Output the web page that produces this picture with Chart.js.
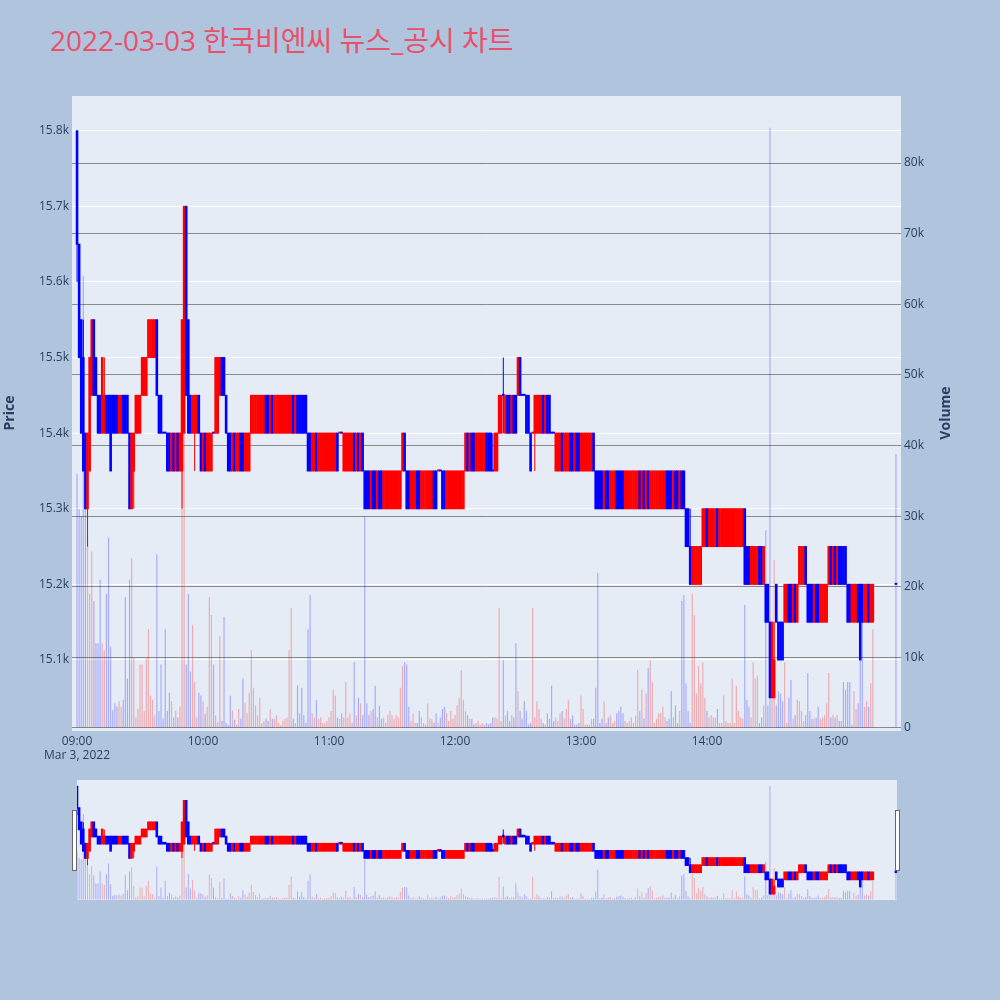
<!DOCTYPE html>
<html>
<head>
<meta charset="utf-8">
<script src="https://cdn.jsdelivr.net/npm/chart.js@4.4.1/dist/chart.umd.min.js"></script>
<style>
  html, body { margin: 0; padding: 0; background: #b0c4de; }
  #wrap { position: relative; width: 1000px; height: 1000px; overflow: hidden; }
  #title { position: absolute; left: 50px; top: 21px; line-height: 38px; font-size: 28px; color: #e9516b;
           white-space: nowrap; font-family: "Open Sans", "Noto Sans CJK KR", sans-serif; }
  #mainChart { position: absolute; left: 0; top: 0; }
  #sliderBg { position: absolute; left: 77px; top: 780px; width: 820px; height: 120px; background: #e5ecf6; }
  #sliderChart { position: absolute; left: 77px; top: 780px; }
  .handle { position: absolute; top: 810px; width: 3px; height: 59px; background: #fff; border: 1px solid #666; }
</style>
</head>
<body>
<div id="wrap">
  <div id="title">2022-03-03 한국비엔씨 뉴스_공시 차트</div>
  <canvas id="mainChart" width="1000" height="770"></canvas>
  <div id="sliderBg"></div>
  <canvas id="sliderChart" width="820" height="120"></canvas>
  <div class="handle" style="left:72px"></div>
  <div class="handle" style="left:895px"></div>
</div>
<script>
// 분봉 시간 (09:00 ~ 15:19, 동시호가 15:30)
const times = [];
for (let i = 0; i < 380; i++) {
  const h = 9 + Math.floor(i / 60), mm = i % 60;
  times.push(String(h).padStart(2, '0') + ':' + String(mm).padStart(2, '0'));
}
times.push('15:30');

const opens = [
  15800,15650,15550,15500,15400,15300,15350,15450,15550,15500,
  15450,15450,15400,15400,15450,15450,15450,15450,15450,15450,
  15400,15400,15450,15450,15450,15400,15300,15350,15400,15400,
  15400,15450,15450,15450,15500,15500,15500,15500,15550,15450,
  15450,15400,15400,15400,15400,15350,15400,15350,15400,15350,
  15350,15400,15700,15550,15450,15400,15400,15400,15450,15400,
  15350,15400,15350,15350,15350,15400,15400,15400,15450,15500,
  15500,15450,15400,15400,15350,15400,15350,15350,15400,15400,
  15350,15350,15350,15400,15400,15400,15400,15400,15400,15400,
  15450,15450,15400,15450,15400,15400,15400,15400,15400,15400,
  15400,15400,15400,15450,15400,15450,15450,15450,15450,15450,
  15400,15400,15350,15350,15400,15350,15350,15350,15350,15350,
  15350,15350,15350,15350,15400,15400,15400,15350,15350,15350,
  15350,15350,15400,15350,15400,15350,15400,15350,15350,15350,
  15300,15350,15350,15300,15350,15350,15300,15300,15300,15300,
  15300,15300,15300,15300,15300,15350,15400,15350,15350,15300,
  15300,15300,15350,15350,15300,15300,15300,15300,15300,15300,
  15350,15350,15350,15350,15350,15350,15300,15300,15300,15300,
  15300,15300,15300,15300,15300,15350,15400,15350,15400,15400,
  15350,15350,15350,15350,15350,15400,15400,15400,15350,15350,
  15350,15400,15400,15450,15400,15450,15450,15400,15450,15450,
  15450,15500,15450,15450,15450,15450,15400,15400,15400,15400,
  15400,15400,15450,15400,15450,15450,15400,15400,15350,15350,
  15350,15400,15350,15350,15350,15400,15400,15350,15400,15400,
  15350,15350,15350,15350,15350,15350,15400,15350,15350,15350,
  15350,15300,15350,15350,15300,15300,15300,15350,15350,15350,
  15350,15300,15300,15300,15300,15300,15300,15300,15350,15300,
  15350,15300,15350,15300,15300,15300,15300,15300,15300,15300,
  15300,15350,15350,15350,15300,15350,15350,15300,15350,15350,
  15300,15300,15250,15200,15200,15200,15200,15200,15250,15250,
  15300,15250,15250,15250,15250,15300,15250,15250,15250,15250,
  15250,15250,15250,15250,15250,15250,15250,15250,15300,15250,
  15250,15200,15200,15200,15200,15250,15250,15200,15200,15200,
  15150,15050,15050,15200,15150,15150,15150,15150,15150,15200,
  15200,15150,15200,15150,15200,15200,15200,15250,15200,15200,
  15200,15150,15200,15200,15150,15150,15150,15150,15200,15250,
  15200,15250,15200,15250,15250,15250,15250,15200,15200,15150,
  15150,15150,15200,15200,15200,15150,15150,15200,15150,15150,
  15200
];

const highs = [
  15800,15650,15550,15550,15400,15400,15500,15550,15550,15500,
  15450,15450,15500,15500,15450,15450,15450,15450,15450,15450,
  15450,15450,15450,15450,15450,15400,15400,15400,15450,15450,
  15450,15500,15500,15500,15550,15550,15550,15550,15550,15450,
  15450,15400,15400,15400,15400,15400,15400,15400,15400,15400,
  15550,15700,15700,15550,15450,15450,15450,15450,15450,15400,
  15400,15400,15400,15400,15400,15400,15500,15500,15500,15500,
  15500,15450,15400,15400,15400,15400,15400,15400,15400,15400,
  15400,15400,15400,15450,15450,15450,15450,15450,15450,15450,
  15450,15450,15450,15450,15450,15450,15450,15450,15450,15450,
  15450,15450,15450,15450,15450,15450,15450,15450,15450,15450,
  15400,15400,15400,15400,15400,15400,15400,15400,15400,15400,
  15400,15400,15400,15400,15400,15400,15400,15400,15400,15400,
  15400,15400,15400,15400,15400,15400,15400,15350,15350,15350,
  15350,15350,15350,15350,15350,15350,15350,15350,15350,15350,
  15350,15350,15350,15350,15350,15400,15400,15350,15350,15350,
  15350,15350,15350,15350,15350,15350,15350,15350,15350,15350,
  15350,15350,15350,15350,15350,15350,15350,15350,15350,15350,
  15350,15350,15350,15350,15350,15400,15400,15400,15400,15400,
  15400,15400,15400,15400,15400,15400,15400,15400,15400,15400,
  15400,15450,15450,15500,15450,15450,15450,15450,15450,15450,
  15500,15500,15450,15450,15450,15450,15400,15400,15450,15450,
  15450,15450,15450,15450,15450,15450,15400,15400,15400,15400,
  15400,15400,15400,15400,15400,15400,15400,15400,15400,15400,
  15400,15400,15400,15400,15400,15400,15400,15350,15350,15350,
  15350,15350,15350,15350,15350,15350,15350,15350,15350,15350,
  15350,15350,15350,15350,15350,15350,15350,15350,15350,15350,
  15350,15350,15350,15350,15350,15350,15350,15350,15350,15350,
  15350,15350,15350,15350,15350,15350,15350,15350,15350,15350,
  15300,15300,15300,15250,15250,15250,15250,15250,15300,15300,
  15300,15300,15300,15300,15300,15300,15300,15300,15300,15300,
  15300,15300,15300,15300,15300,15300,15300,15300,15300,15250,
  15250,15250,15250,15250,15250,15250,15250,15250,15200,15200,
  15150,15150,15150,15200,15150,15150,15150,15200,15200,15200,
  15200,15200,15200,15200,15250,15250,15250,15250,15200,15200,
  15200,15200,15200,15200,15200,15200,15200,15200,15250,15250,
  15250,15250,15250,15250,15250,15250,15250,15200,15200,15200,
  15200,15200,15200,15200,15200,15200,15200,15200,15200,15200,
  15200
];

const lows = [
  15600,15500,15400,15350,15300,15250,15350,15450,15450,15450,
  15400,15400,15400,15400,15400,15400,15350,15400,15400,15400,
  15400,15400,15400,15400,15400,15300,15300,15300,15400,15400,
  15400,15450,15450,15450,15500,15500,15500,15500,15450,15400,
  15400,15400,15400,15350,15350,15350,15350,15350,15350,15350,
  15300,15400,15450,15400,15400,15400,15350,15400,15400,15350,
  15350,15350,15350,15350,15350,15400,15400,15400,15450,15450,
  15450,15400,15350,15350,15350,15350,15350,15350,15350,15350,
  15350,15350,15350,15400,15400,15400,15400,15400,15400,15400,
  15400,15400,15400,15400,15400,15400,15400,15400,15400,15400,
  15400,15400,15400,15400,15400,15400,15400,15400,15400,15400,
  15350,15350,15350,15350,15350,15350,15350,15350,15350,15350,
  15350,15350,15350,15350,15350,15400,15400,15350,15350,15350,
  15350,15350,15350,15350,15350,15350,15350,15300,15300,15300,
  15300,15300,15300,15300,15300,15300,15300,15300,15300,15300,
  15300,15300,15300,15300,15300,15350,15350,15300,15300,15300,
  15300,15300,15300,15300,15300,15300,15300,15300,15300,15300,
  15300,15300,15350,15350,15300,15300,15300,15300,15300,15300,
  15300,15300,15300,15300,15300,15350,15350,15350,15350,15350,
  15350,15350,15350,15350,15350,15350,15350,15350,15350,15350,
  15350,15400,15400,15400,15400,15400,15400,15400,15400,15400,
  15450,15450,15450,15450,15400,15400,15350,15400,15350,15400,
  15400,15400,15400,15400,15400,15400,15400,15400,15350,15350,
  15350,15350,15350,15350,15350,15350,15350,15350,15350,15350,
  15350,15350,15350,15350,15350,15350,15350,15300,15300,15300,
  15300,15300,15300,15300,15300,15300,15300,15300,15300,15300,
  15300,15300,15300,15300,15300,15300,15300,15300,15300,15300,
  15300,15300,15300,15300,15300,15300,15300,15300,15300,15300,
  15300,15300,15300,15300,15300,15300,15300,15300,15300,15300,
  15250,15250,15200,15200,15200,15200,15200,15200,15250,15250,
  15250,15250,15250,15250,15250,15250,15250,15250,15250,15250,
  15250,15250,15250,15250,15250,15250,15250,15250,15200,15200,
  15200,15200,15200,15200,15200,15200,15200,15200,15150,15150,
  15050,15050,15050,15150,15100,15100,15100,15150,15150,15150,
  15150,15150,15150,15150,15200,15200,15200,15200,15150,15150,
  15150,15150,15150,15150,15150,15150,15150,15150,15200,15200,
  15200,15200,15200,15200,15200,15200,15200,15150,15150,15150,
  15150,15150,15150,15100,15150,15150,15150,15150,15150,15150,
  15200
];

const closes = [
  15650,15500,15400,15350,15300,15400,15500,15550,15450,15450,
  15400,15400,15500,15450,15400,15400,15350,15400,15400,15400,
  15450,15450,15400,15400,15400,15300,15400,15400,15450,15450,
  15450,15500,15500,15500,15550,15550,15550,15550,15450,15400,
  15400,15400,15400,15350,15350,15400,15350,15400,15350,15400,
  15550,15700,15450,15400,15400,15450,15450,15450,15400,15350,
  15400,15350,15400,15400,15400,15400,15500,15500,15500,15450,
  15450,15400,15350,15350,15400,15350,15400,15400,15350,15350,
  15400,15400,15400,15450,15450,15450,15450,15450,15450,15450,
  15400,15400,15450,15400,15450,15450,15450,15450,15450,15450,
  15450,15450,15450,15400,15450,15400,15400,15400,15400,15400,
  15350,15350,15400,15400,15350,15400,15400,15400,15400,15400,
  15400,15400,15400,15400,15350,15400,15400,15400,15400,15400,
  15400,15400,15350,15400,15350,15400,15350,15300,15300,15300,
  15350,15300,15300,15350,15300,15300,15350,15350,15350,15350,
  15350,15350,15350,15350,15350,15400,15350,15300,15300,15350,
  15350,15350,15300,15300,15350,15350,15350,15350,15350,15350,
  15300,15300,15350,15350,15300,15300,15350,15350,15350,15350,
  15350,15350,15350,15350,15350,15400,15350,15400,15350,15350,
  15400,15400,15400,15400,15400,15350,15350,15350,15350,15400,
  15400,15450,15450,15450,15450,15400,15400,15450,15400,15400,
  15500,15450,15450,15450,15400,15400,15350,15400,15450,15450,
  15450,15450,15400,15450,15400,15400,15400,15400,15400,15400,
  15400,15350,15400,15400,15400,15350,15350,15400,15350,15350,
  15400,15400,15400,15400,15400,15400,15350,15300,15300,15300,
  15300,15350,15300,15300,15350,15350,15350,15300,15300,15300,
  15300,15350,15350,15350,15350,15350,15350,15350,15300,15350,
  15300,15350,15300,15350,15350,15350,15350,15350,15350,15350,
  15350,15300,15300,15300,15350,15300,15300,15350,15300,15300,
  15250,15250,15200,15250,15250,15250,15250,15250,15300,15300,
  15250,15300,15300,15300,15300,15250,15300,15300,15300,15300,
  15300,15300,15300,15300,15300,15300,15300,15300,15200,15200,
  15200,15250,15250,15250,15250,15200,15200,15250,15150,15150,
  15050,15150,15100,15150,15100,15100,15100,15200,15200,15150,
  15150,15200,15150,15200,15250,15250,15250,15200,15150,15150,
  15150,15200,15150,15150,15200,15200,15200,15200,15250,15200,
  15250,15200,15250,15200,15200,15200,15200,15150,15150,15200,
  15200,15200,15150,15100,15150,15200,15200,15150,15200,15200,
  15200
];

const volumes = [
  36000,31000,30000,64000,31000,27000,19000,25000,18000,12000,
  12000,21000,12000,11000,19000,27000,11500,2500,3500,3000,
  3800,3000,4000,18500,7000,21000,24000,10000,1500,2700,
  9000,9000,2400,10000,14000,4600,4000,1800,24600,2400,
  9000,1300,14000,2400,5000,3800,1500,2400,1500,3000,
  45000,42000,9000,19000,8000,14600,6500,1500,5000,4600,
  3800,2000,3000,18500,16000,9000,1800,800,13000,1000,
  15700,700,400,4600,2500,1200,500,2700,1300,7000,
  3500,2100,5000,11000,5700,3200,1800,4300,700,1000,
  1300,1000,2700,1300,1300,1800,700,400,1000,1300,
  1500,11000,17000,1300,700,6000,2100,5700,1800,700,
  14000,18800,2100,1500,4000,1300,1500,700,700,1000,
  1500,2400,5400,4600,1500,1300,2100,1500,6500,1500,
  2100,700,9300,1800,4300,3500,1800,30000,3500,1800,
  2400,2700,6000,1500,3200,1300,1500,700,1800,2400,
  1800,1300,1800,1500,5700,8800,9300,9000,3000,1000,
  2100,700,700,2400,1500,700,500,3500,1300,1300,
  700,2100,700,1500,2700,3000,2100,1000,2400,1300,
  1800,3200,4300,8200,4000,2400,1800,1300,1300,500,
  700,1000,500,700,500,700,500,700,1500,1500,
  1300,17000,1000,9600,1800,2400,1000,1800,1500,12000,
  5200,2400,1300,3800,2400,500,700,17000,1500,3800,
  2700,1300,700,500,2100,1300,6000,1000,1500,1000,
  2100,2400,1300,2700,4000,1300,1800,500,500,700,
  4600,2700,500,500,500,1300,1300,5700,22000,700,
  1300,3800,700,1500,1800,700,1000,2100,2400,3000,
  2100,1000,700,1000,1500,700,1800,8200,2400,5400,
  1300,4900,8500,9600,6500,700,1300,2100,2100,3000,
  1500,1000,1300,5200,1500,3200,700,2400,18000,18800,
  6300,2400,700,19000,16000,4900,8800,6300,9300,4300,
  2400,1500,1800,1500,1500,2700,700,700,4600,1000,
  700,700,7000,700,6000,2400,1500,1300,17400,4000,
  3000,1500,9300,7000,7400,700,1500,3200,28000,3200,
  85000,5200,23800,3200,5200,4900,3800,9300,700,4300,
  6800,1300,1800,4000,3800,2400,1000,1800,7800,2400,
  1300,1300,1500,3000,1300,1500,1800,3500,7800,1500,
  1800,1500,1800,1000,1000,6500,5400,6500,6500,500,
  5200,2700,3500,16000,16000,3000,3800,3000,6300,14000,
  38800
];

const priceTicks = [15100, 15200, 15300, 15400, 15500, 15600, 15700, 15800];
const volumeTicks = [0, 10000, 20000, 30000, 40000, 50000, 60000, 70000, 80000];
const timeTicks = ['09:00', '10:00', '11:00', '12:00', '13:00', '14:00', '15:00'];

const UP = '#ff0000', DOWN = '#0000ff';
const UP_VOL = 'rgba(255,0,0,0.27)', DOWN_VOL = 'rgba(0,0,255,0.27)';
const TICK_COLOR = '#2a3f5f';
Chart.defaults.font.family = '"Open Sans", "Noto Sans CJK KR", sans-serif';

function toMinute(t) {
  const [h, m] = t.split(':').map(Number);
  return (h - 9) * 60 + m;
}
const xs = times.map(toMinute);
// 상승: 종가 > 시가, 같으면 직전 종가와 비교
const isUp = closes.map((c, i) => c > opens[i] || (c === opens[i] && i > 0 && c > closes[i - 1]));

function makeDatasets(bodyW, bodyInflate, wickW, volW) {
  return [
    {
      label: 'Volume', yAxisID: 'yv', order: 3, grouped: false, barThickness: volW, inflateAmount: 0,
      data: xs.map((x, i) => ({ x: x, y: volumes[i] })),
      backgroundColor: isUp.map(u => u ? UP_VOL : DOWN_VOL)
    },
    {
      label: 'wick', yAxisID: 'y', order: 2, grouped: false, barThickness: wickW, inflateAmount: 0,
      data: xs.map((x, i) => ({ x: x, y: [lows[i], highs[i]] })),
      backgroundColor: isUp.map(u => u ? UP : DOWN)
    },
    {
      label: 'body', yAxisID: 'y', order: 1, grouped: false, barThickness: bodyW, minBarLength: 1,
      inflateAmount: bodyInflate,
      data: xs.map((x, i) => ({ x: x, y: [Math.min(opens[i], closes[i]), Math.max(opens[i], closes[i])] })),
      backgroundColor: isUp.map(u => u ? UP : DOWN)
    }
  ];
}

const plotBg = {
  id: 'plotBg',
  beforeDraw(chart) {
    const a = chart.chartArea, ctx = chart.ctx;
    ctx.save();
    ctx.fillStyle = '#e5ecf6';
    ctx.fillRect(a.left, a.top, a.right - a.left, a.bottom - a.top);
    ctx.restore();
  }
};

const axisTitles = {
  id: 'axisTitles',
  afterDraw(chart) {
    const ctx = chart.ctx;
    ctx.save();
    ctx.fillStyle = TICK_COLOR;
    ctx.font = 'bold 14px "Open Sans", sans-serif';
    ctx.textAlign = 'center';
    ctx.textBaseline = 'middle';
    [['Price', 10], ['Volume', 946]].forEach(([txt, x]) => {
      ctx.save();
      ctx.translate(x, 413);
      ctx.rotate(-Math.PI / 2);
      ctx.fillText(txt, 0, 0);
      ctx.restore();
    });
    ctx.restore();
  }
};

new Chart(document.getElementById('mainChart'), {
  type: 'bar',
  data: { datasets: makeDatasets(1.6, 0.5, 1, 1.2) },
  options: {
    responsive: false,
    animation: false,
    layout: { padding: { top: 96, right: 44, left: 0, bottom: 0 } },
    plugins: { legend: { display: false }, tooltip: { enabled: false } },
    scales: {
      x: {
        type: 'linear', min: -2.4, max: 392.4, offset: false,
        grid: { display: false, drawTicks: false }, border: { display: false },
        afterBuildTicks: s => { s.ticks = timeTicks.map(t => ({ value: toMinute(t) })); },
        afterFit: s => { s.height = 39; },
        ticks: {
          color: TICK_COLOR, font: { size: 12 }, padding: 3, maxRotation: 0, autoSkip: false,
          callback: (v, i) => i === 0 ? [timeTicks[0], 'Mar 3, 2022'] : timeTicks[i]
        }
      },
      y: {
        position: 'left', min: 15006, max: 15846,
        grid: { color: '#ffffff', lineWidth: 1, drawTicks: false }, border: { display: false },
        afterBuildTicks: s => { s.ticks = priceTicks.map(v => ({ value: v })); },
        afterFit: s => { s.width = 72; },
        ticks: { color: TICK_COLOR, font: { size: 12 }, padding: 3, callback: v => (v / 1000).toFixed(1) + 'k' }
      },
      yv: {
        position: 'right', min: -425, max: 89490,
        grid: { color: 'rgba(120,120,120,0.85)', lineWidth: 1, drawTicks: false }, border: { display: false },
        afterBuildTicks: s => { s.ticks = volumeTicks.map(v => ({ value: v })); },
        afterFit: s => { s.width = 55; },
        ticks: { color: TICK_COLOR, font: { size: 12 }, padding: 3, callback: v => v === 0 ? '0' : (v / 1000) + 'k' }
      }
    }
  },
  plugins: [plotBg, axisTitles]
});

// 하단 range slider 미니 차트
new Chart(document.getElementById('sliderChart'), {
  type: 'bar',
  data: { datasets: makeDatasets(1, 0.8, 1, 1) },
  options: {
    responsive: false,
    animation: false,
    layout: { padding: 0 },
    plugins: { legend: { display: false }, tooltip: { enabled: false } },
    scales: {
      x: { type: 'linear', min: 0, max: 390.5, offset: false, display: false },
      y: { min: 15006, max: 15846, display: false },
      yv: { position: 'right', min: -425, max: 89490, display: false }
    }
  }
});
</script>
</body>
</html>
